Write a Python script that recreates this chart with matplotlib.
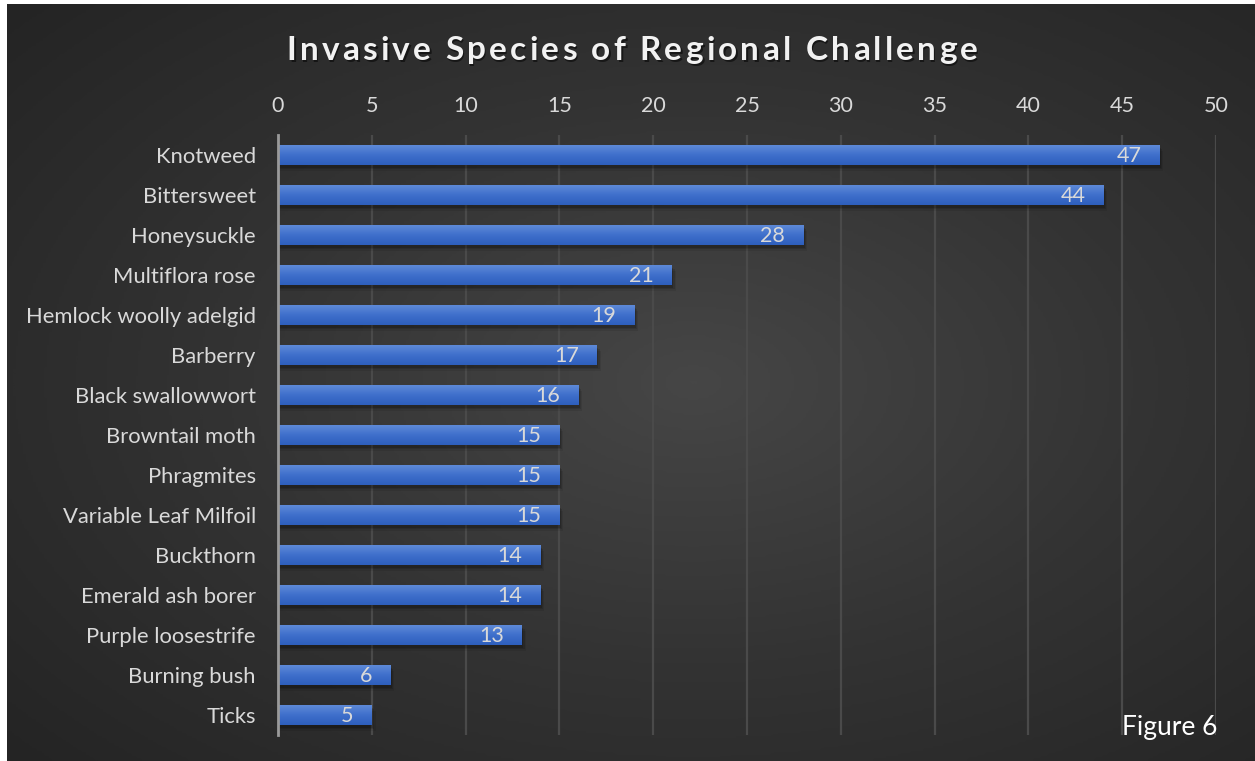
import numpy as np
import matplotlib
matplotlib.use("Agg")
import matplotlib.pyplot as plt
from matplotlib.colors import LinearSegmentedColormap

species = ["Knotweed", "Bittersweet", "Honeysuckle", "Multiflora rose",
           "Hemlock woolly adelgid", "Barberry", "Black swallowwort",
           "Browntail moth", "Phragmites", "Variable Leaf Milfoil",
           "Buckthorn", "Emerald ash borer", "Purple loosestrife",
           "Burning bush", "Ticks"]
counts = [47, 44, 28, 21, 19, 17, 16, 15, 15, 15, 14, 14, 13, 6, 5]
xticks = [0, 5, 10, 15, 20, 25, 30, 35, 40, 45, 50]

FONT = "Lato"
TXT = "#d9d9d9"

W, H = 1255, 761
fig = plt.figure(figsize=(W / 100, H / 100), dpi=100)
fig.patch.set_facecolor("white")

# dark radial background panel
bg = fig.add_axes([7 / W, 0, 1 - 7 / W, 1 - 4 / H])
bg.set_axis_off()
yy, xx = np.mgrid[0:1:300j, 0:1:500j]
r = np.sqrt(((xx - 0.55) / 0.75) ** 2 + ((yy - 0.5) / 0.75) ** 2)
r = np.clip(r, 0, 1)
bg_cmap = LinearSegmentedColormap.from_list("bg", ["#464646", "#333333", "#242424"])
bg.imshow(r, cmap=bg_cmap, aspect="auto", extent=[0, 1, 0, 1], origin="lower")
bg.set_xlim(0, 1)
bg.set_ylim(0, 1)

ax = fig.add_axes([278 / W, 1 - 735 / H, 938 / W, 600 / H])
ax.patch.set_alpha(0)

ypos = np.arange(len(species))

# soft drop shadow under each bar
for dx, dy, a in [(0.08, 0.07, 0.16), (0.14, 0.11, 0.12), (0.2, 0.15, 0.08)]:
    ax.barh(ypos + dy, np.array(counts) + dx, height=0.5, color="black",
            alpha=a, zorder=2, linewidth=0)

bars = ax.barh(ypos, counts, height=0.5, color="#4472c4", zorder=3, linewidth=0)

# vertical gradient fill clipped to each bar
grad = np.linspace(0, 1, 64).reshape(-1, 1)
bar_cmap = LinearSegmentedColormap.from_list("bar", ["#5e8ad8", "#3f6fcb", "#2e5fbd"])
for b in bars:
    x0, y0 = b.get_x(), b.get_y()
    w, h = b.get_width(), b.get_height()
    im = ax.imshow(grad, cmap=bar_cmap, aspect="auto",
                   extent=[x0, x0 + w, y0 + h, y0], zorder=4, origin="upper")
    im.set_clip_path(b)

for b, v in zip(bars, counts):
    ax.annotate(str(v), xy=(v, b.get_y() + b.get_height() / 2),
                xytext=(-13, -1), textcoords="offset points",
                ha="right", va="center", color=TXT, fontsize=15.5,
                family=FONT, zorder=5)

ax.set_xlim(0, 50)
ax.set_ylim(len(species) - 0.5, -0.5)
ax.set_xticks(xticks)
ax.set_yticks(ypos)
ax.set_yticklabels(species)
ax.xaxis.tick_top()
ax.tick_params(axis="x", length=0, pad=14, colors=TXT, labelsize=15.5)
ax.tick_params(axis="y", length=0, pad=16, colors=TXT, labelsize=15.8)
for lab in ax.get_xticklabels() + ax.get_yticklabels():
    lab.set_family(FONT)
ax.grid(axis="x", color="#4a4a4a", linewidth=1.6, zorder=1)
ax.set_axisbelow(True)
for s in ["top", "right", "bottom"]:
    ax.spines[s].set_visible(False)
ax.spines["left"].set_color("#9a9a9a")
ax.spines["left"].set_linewidth(2)
ax.spines["left"].set_zorder(6)


def spaced_text(s, xc, yc, track, **kw):
    """Draw s centred at (xc, yc) in pixels with extra letter spacing."""
    rend = fig.canvas.get_renderer()
    widths = []
    for ch in s:
        t = fig.text(0, 0, ch, **kw)
        widths.append(t.get_window_extent(rend).width if ch != " " else None)
        t.remove()
    space_w = fig.text(0, 0, "n n", **kw)
    sw = space_w.get_window_extent(rend).width
    nn = fig.text(0, 0, "nn", **kw)
    sw -= nn.get_window_extent(rend).width
    space_w.remove()
    nn.remove()
    widths = [sw if w is None else w for w in widths]
    total = sum(widths) + track * (len(s) - 1)
    x = xc - total / 2
    for ch, w in zip(s, widths):
        fig.text(x / W, 1 - yc / H, ch, ha="left", va="center", **kw)
        x += w + track


# title with a faint shadow
title = "Invasive Species of Regional Challenge"
spaced_text(title, 632 + 1.5, 50 + 2, 3.2, fontsize=24, fontweight="bold",
            family=FONT, color="black", alpha=0.5)
spaced_text(title, 632, 50, 3.2, fontsize=24, fontweight="bold",
            family=FONT, color="#f2f2f2")

fig.text(1217 / W, 1 - 727 / H, "Figure 6", ha="right", va="center",
         fontsize=19, family=FONT, color="white")

fig.savefig("out.png", dpi=100, facecolor=fig.get_facecolor())
